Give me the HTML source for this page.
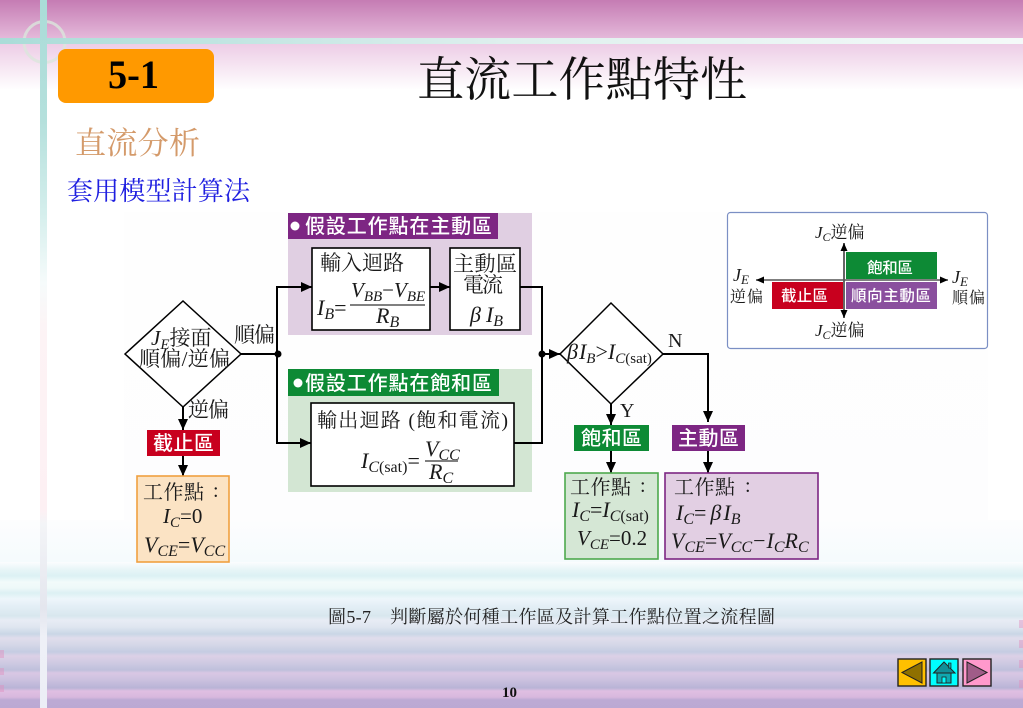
<!DOCTYPE html>
<html><head><meta charset="utf-8"><style>
html,body{margin:0;padding:0;background:#fff}
svg{display:block}
text{font-family:"Liberation Serif","Noto Serif CJK SC",serif;fill:#1a1a1a}
.s{font-family:"Liberation Sans","Noto Sans CJK SC",sans-serif;fill:#fff;font-weight:500}
.m{font-size:21px}
.f{font-size:22px}
.i{font-style:italic}
.n{font-style:normal}
</style></head><body>
<svg width="1023" height="708" viewBox="0 0 1023 708" xmlns="http://www.w3.org/2000/svg">
<defs>
<linearGradient id="t" x1="0" y1="0" x2="0" y2="1"><stop offset="0" stop-color="#c57cb3"/><stop offset="1" stop-color="#e4b8d9"/></linearGradient>
<linearGradient id="t2" x1="0" y1="0" x2="0" y2="1"><stop offset="0" stop-color="#edcde6"/><stop offset="1" stop-color="#ffffff"/></linearGradient>
<linearGradient id="bar" x1="0" y1="0" x2="1" y2="0"><stop offset="0" stop-color="#aadcd8"/><stop offset=".5" stop-color="#dff0ee"/><stop offset="1" stop-color="#f4faf9"/></linearGradient>
<linearGradient id="vb" gradientUnits="userSpaceOnUse" x1="0" y1="0" x2="0" y2="708">
<stop offset="0" stop-color="#aadcd8"/><stop offset=".17" stop-color="#b4e0dc"/><stop offset=".3" stop-color="#d4eeec"/><stop offset=".4" stop-color="#f6fbfb"/><stop offset=".47" stop-color="#fdf3f5"/><stop offset=".72" stop-color="#fdf0f3"/><stop offset=".74" stop-color="#f3f4f7"/><stop offset=".86" stop-color="#e4e6ee"/><stop offset=".9" stop-color="#eef0f7"/><stop offset="1" stop-color="#eceef6"/></linearGradient>
<linearGradient id="b" gradientUnits="userSpaceOnUse" x1="0" y1="562" x2="0" y2="708">
<stop offset="0" stop-color="#fbfdfe"/><stop offset=".055" stop-color="#e6f5f7"/><stop offset=".096" stop-color="#dcf1f4"/><stop offset=".137" stop-color="#f2fbfa"/><stop offset=".178" stop-color="#eef9f9"/><stop offset=".212" stop-color="#dcf0f3"/><stop offset=".253" stop-color="#eef6fb"/><stop offset=".301" stop-color="#e4eff6"/><stop offset=".37" stop-color="#d8e7ee"/><stop offset=".397" stop-color="#e8ecf5"/><stop offset=".445" stop-color="#dfe6f0"/><stop offset=".493" stop-color="#c9d6e6"/><stop offset=".521" stop-color="#e0ddec"/><stop offset=".562" stop-color="#d6d8e8"/><stop offset=".616" stop-color="#c5cce2"/><stop offset=".644" stop-color="#dcd0e6"/><stop offset=".685" stop-color="#d0cbe3"/><stop offset=".74" stop-color="#bfc0dc"/><stop offset=".76" stop-color="#d9c7e4"/><stop offset=".801" stop-color="#cdc2e0"/><stop offset=".863" stop-color="#b9b4d6"/><stop offset=".884" stop-color="#e0bfe2"/><stop offset=".925" stop-color="#d8b8de"/><stop offset=".945" stop-color="#bcaad4"/><stop offset="1" stop-color="#bba9d3"/></linearGradient>
<linearGradient id="dg" gradientUnits="userSpaceOnUse" x1="0" y1="212" x2="0" y2="562"><stop offset="0" stop-color="#fefefe"/><stop offset=".88" stop-color="#fdfdfe"/><stop offset="1" stop-color="#f5fbfd"/></linearGradient>
<marker id="a" markerUnits="userSpaceOnUse" markerWidth="11" markerHeight="10" refX="11" refY="5" orient="auto"><path d="M0 0L11 5L0 10Z" fill="#000"/></marker>
<marker id="a2" markerUnits="userSpaceOnUse" markerWidth="8" markerHeight="7" refX="8" refY="3.5" orient="auto"><path d="M0 0L8 3.5L0 7Z" fill="#000"/></marker>
</defs>

<rect width="1023" height="708" fill="#fff"/>
<rect y="520" width="1023" height="42" fill="url(#dg)"/>
<rect width="1023" height="38" fill="url(#t)"/>
<rect y="44" width="1023" height="46" fill="url(#t2)"/>
<rect y="562" width="1023" height="146" fill="url(#b)"/>
<g fill="#e090c0" opacity=".45"><rect y="650" width="4" height="8"/><rect y="668" width="4" height="7"/><rect y="685" width="4" height="7"/><rect x="1019" y="620" width="4" height="8"/><rect x="1019" y="640" width="4" height="8"/><rect x="1019" y="660" width="4" height="8"/><rect x="1019" y="680" width="4" height="8"/></g>

<circle cx="44.500" cy="42" r="20.500" fill="none" stroke="#dbe6dc" stroke-width="3" opacity=".8"/>
<rect y="38" width="1023" height="6" fill="url(#bar)"/>
<rect x="40" width="7" height="708" fill="url(#vb)"/>

<rect x="58" y="49" width="156" height="54" rx="8" fill="#ff9900"/>
<text x="108" y="88" font-size="40" font-weight="bold" textLength="51" lengthAdjust="spacingAndGlyphs" style="fill:#000">5-1</text>
<text x="417" y="96" font-size="47" textLength="330" style="fill:#111">直流工作點特性</text>
<text x="75" y="154" font-size="31" textLength="125" style="fill:#d49a6a">直流分析</text>
<text x="67" y="200" font-size="26" textLength="183" style="fill:#1f1fe0">套用模型計算法</text>

<!-- diagram background -->
<rect x="124" y="212" width="864" height="350" fill="url(#dg)"/>

<!-- panels -->
<rect x="288" y="213" width="244" height="122" fill="#e0cfe2"/>
<rect x="288" y="213" width="210" height="26" fill="#7d2683"/>
<circle cx="295" cy="226" r="4.5" fill="#fff"/>
<text class="s" x="305" y="233" font-size="20" textLength="187">假設工作點在主動區</text>
<rect x="288" y="369" width="244" height="123" fill="#d3e6d3"/>
<rect x="288" y="369" width="211" height="27" fill="#0d8a35"/>
<circle cx="298" cy="383" r="4.5" fill="#fff"/>
<text class="s" x="305" y="390" font-size="20" textLength="187">假設工作點在飽和區</text>

<!-- boxes -->
<g fill="#fff" stroke="#000" stroke-width="1.6">
<rect x="312" y="248" width="118" height="82"/>
<rect x="450" y="248" width="70" height="82"/>
<rect x="311" y="403" width="203" height="83"/>
</g>
<text class="m" x="320" y="270" textLength="84">輸入迴路</text>
<text class="f i" x="317" y="315">I<tspan font-size="16" dy="4">B</tspan><tspan class="n" dy="-4">=</tspan></text>
<text class="m i" x="351" y="297">V<tspan font-size="15" dy="4">BB</tspan><tspan class="n" dy="-4">−</tspan>V<tspan font-size="15" dy="4">BE</tspan></text>
<path d="M350 305H425" stroke="#000" stroke-width="1"/>
<text class="f i" x="376" y="323">R<tspan font-size="16" dy="4">B</tspan></text>
<text class="m" x="453" y="271" textLength="64">主動區</text>
<text class="m" x="463" y="292" textLength="40">電流</text>
<text class="f i" x="470" y="322">β<tspan dx="5">I</tspan><tspan font-size="16" dy="4">B</tspan></text>
<text font-size="20" x="317" y="427" textLength="191">輸出迴路 (飽和電流)</text>
<text class="f i" x="361" y="468">I<tspan font-size="16" dy="4">C</tspan><tspan class="n" font-size="16">(sat)</tspan><tspan class="n" dy="-4">=</tspan></text>
<text class="f i" x="425" y="456">V<tspan font-size="16" dy="4">CC</tspan></text>
<path d="M425 461H458" stroke="#000" stroke-width="1"/>
<text class="f i" x="429" y="479">R<tspan font-size="16" dy="4">C</tspan></text>

<!-- diamonds -->
<path d="M125 354L183 301L241 354L183 407Z" fill="#fff" stroke="#000" stroke-width="1.5"/>
<text class="m i" x="151" y="345">J<tspan font-size="15" dy="4">E</tspan><tspan class="n" dy="-4" font-size="21">接面</tspan></text>
<text font-size="21" x="139" y="366" textLength="91">順偏/逆偏</text>
<path d="M560 354L611 303L663 354L611 404Z" fill="#fff" stroke="#000" stroke-width="1.5"/>
<text font-size="22" class="i" x="567" y="359">β<tspan dx="1">I</tspan><tspan font-size="15" dy="4">B</tspan><tspan class="n" dy="-4">&gt;</tspan>I<tspan font-size="15" dy="4">C</tspan><tspan class="n" font-size="15">(sat)</tspan></text>

<!-- connectors -->
<g fill="none" stroke="#000" stroke-width="2">
<path d="M241 354H277"/>
<path d="M277 354V287H312" marker-end="url(#a)"/>
<path d="M277 354V443H311" marker-end="url(#a)"/>
<path d="M430 287H450" marker-end="url(#a)"/>
<path d="M520 287H542V443H514"/>
<path d="M542 354H560" marker-end="url(#a)"/>
<path d="M663 354H708V422" marker-end="url(#a)"/>
<path d="M611 404V425" marker-end="url(#a)"/>
<path d="M183 407V430" marker-end="url(#a)"/>
<path d="M183 456V476" marker-end="url(#a)"/>
<path d="M611 451V473" marker-end="url(#a)"/>
<path d="M708 451V473" marker-end="url(#a)"/>
</g>
<circle cx="278" cy="354" r="3.5" fill="#000"/>
<circle cx="542" cy="354" r="3.5" fill="#000"/>
<text class="m" x="234" y="342" textLength="41">順偏</text>
<text class="m" x="188" y="417" textLength="41">逆偏</text>
<text font-size="20" x="668" y="347">N</text>
<text font-size="20" x="620" y="417">Y</text>

<!-- labels -->
<rect x="147" y="430" width="73" height="26" fill="#c8001e"/>
<text class="s" x="153" y="450" font-size="20" textLength="61">截止區</text>
<rect x="574" y="425" width="75" height="26" fill="#0d8a35"/>
<text class="s" x="581" y="445" font-size="20" textLength="61">飽和區</text>
<rect x="672" y="425" width="73" height="26" fill="#7d2683"/>
<text class="s" x="678" y="445" font-size="20" textLength="61">主動區</text>

<!-- result boxes -->
<rect x="137" y="476" width="92" height="86" fill="#fbe3c4" stroke="#f0a040" stroke-width="1.6"/>
<text font-size="20" x="143" y="499" textLength="61">工作點</text>
<text font-size="20" x="213" y="497">:</text>
<text class="m i" x="163" y="523">I<tspan font-size="15" dy="4">C</tspan><tspan class="n" dy="-4">=0</tspan></text>
<text class="f i" x="144" y="552">V<tspan font-size="16" dy="4">CE</tspan><tspan class="n" dy="-4">=</tspan>V<tspan font-size="16" dy="4">CC</tspan></text>

<rect x="565" y="473" width="93" height="86" fill="#d5e7d5" stroke="#4ea94e" stroke-width="1.6"/>
<text font-size="20" x="570" y="494" textLength="61">工作點</text>
<text font-size="20" x="640" y="492">:</text>
<text class="f i" x="572" y="517">I<tspan font-size="16" dy="4">C</tspan><tspan class="n" dy="-4">=</tspan>I<tspan font-size="16" dy="4">C</tspan><tspan class="n" font-size="16">(sat)</tspan></text>
<text class="m i" x="577" y="545">V<tspan font-size="15" dy="4">CE</tspan><tspan class="n" dy="-4">=0.2</tspan></text>

<rect x="665" y="473" width="153" height="86" fill="#e2cfe3" stroke="#7d2683" stroke-width="1.6"/>
<text font-size="20" x="674" y="494" textLength="61">工作點</text>
<text font-size="20" x="745" y="492">:</text>
<text class="f i" x="676" y="520">I<tspan font-size="16" dy="4">C</tspan><tspan class="n" dy="-4">=</tspan><tspan dx="4">β</tspan><tspan dx="2">I</tspan><tspan font-size="16" dy="4">B</tspan></text>
<text class="f i" x="671" y="548">V<tspan font-size="16" dy="4">CE</tspan><tspan class="n" dy="-4">=</tspan>V<tspan font-size="16" dy="4">CC</tspan><tspan class="n" dy="-4" dx="1">−</tspan><tspan dx="1">I</tspan><tspan font-size="16" dy="4">C</tspan><tspan dy="-4">R</tspan><tspan font-size="16" dy="4">C</tspan></text>

<!-- legend -->
<rect x="727.5" y="212.5" width="260" height="136" rx="3" fill="#fff" stroke="#7b8fc4" stroke-width="1.2"/>
<rect x="846" y="252" width="91" height="27" fill="#0d8a35"/>
<rect x="772" y="282" width="71" height="27" fill="#c8001e"/>
<rect x="846" y="282" width="91" height="27" fill="#8a4f9e"/>
<path d="M844 280V243" stroke="#666" stroke-width="2" marker-end="url(#a2)" fill="none"/>
<path d="M844 280V318" stroke="#666" stroke-width="2" marker-end="url(#a2)" fill="none"/>
<path d="M844 280H756" stroke="#555" stroke-width="1.5" marker-end="url(#a2)" fill="none"/>
<path d="M844 280H948" stroke="#555" stroke-width="1.5" marker-end="url(#a2)" fill="none"/>
<text class="s" x="867" y="273" font-size="15.5" textLength="46">飽和區</text>
<text class="s" x="781" y="301" font-size="15.5" textLength="47">截止區</text>
<text class="s" x="851" y="301" font-size="15.5" textLength="80">順向主動區</text>
<text font-size="17" class="i" x="815" y="238">J<tspan font-size="12" dy="3">C</tspan><tspan class="n" dy="-3" font-size="17">逆偏</tspan></text>
<text font-size="17" class="i" x="815" y="336">J<tspan font-size="12" dy="3">C</tspan><tspan class="n" dy="-3" font-size="17">逆偏</tspan></text>
<text font-size="18" class="i" x="733" y="281">J<tspan font-size="13" dy="3">E</tspan></text>
<text font-size="16" x="730" y="302" textLength="33">逆偏</text>
<text font-size="18" class="i" x="952" y="283">J<tspan font-size="13" dy="3">E</tspan></text>
<text font-size="16" x="952" y="303" textLength="33">順偏</text>

<!-- caption -->
<text font-size="18" x="328" y="623" style="fill:#222" textLength="43">圖5-7</text>
<text font-size="18" x="390" y="623" textLength="385" style="fill:#222">判斷屬於何種工作區及計算工作點位置之流程圖</text>
<text font-size="15" font-weight="bold" x="502" y="697" style="fill:#111">10</text>

<!-- nav -->
<rect x="898" y="659" width="28" height="27" fill="#ffc000" stroke="#222" stroke-width="1.4"/>
<path d="M902 672.5L922 662V683Z" fill="#8f7000" stroke="#222" stroke-width="1"/>
<rect x="930" y="659" width="28" height="27" fill="#00ffff" stroke="#222" stroke-width="1.4"/>
<path d="M933.500 673L944 662L955 673Z" fill="#108f98" stroke="#222" stroke-width="1"/>
<rect x="937" y="673" width="14" height="10" fill="#10a8b0" stroke="#222" stroke-width="1"/>
<rect x="942" y="677" width="4" height="6" fill="#00ffff" stroke="#222" stroke-width=".8"/>
<rect x="948.500" y="663" width="2.500" height="5" fill="#10a8b0" stroke="#222" stroke-width=".7"/>
<rect x="963" y="659" width="28" height="27" fill="#ff99cc" stroke="#222" stroke-width="1.4"/>
<path d="M987 672.500L967 662V683Z" fill="#a05c88" stroke="#222" stroke-width="1"/>
</svg>
</body></html>
